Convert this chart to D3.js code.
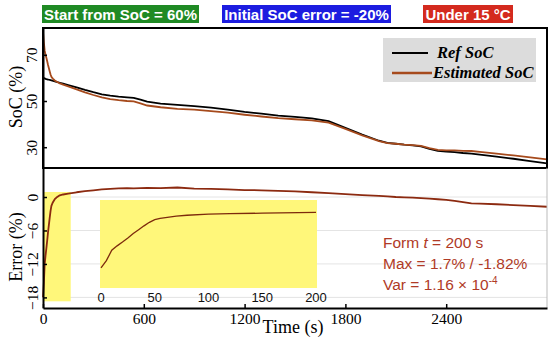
<!DOCTYPE html>
<html>
<head>
<meta charset="utf-8">
<script src="https://cdn.jsdelivr.net/npm/d3@7/dist/d3.min.js"></script>
<style>
  body { margin: 0; background: #fff; }
  svg { display: block; }
</style>
</head>
<body>
<svg id="chart"></svg>
<script>
// ---- data ----
var timeS = [0,5,10,15,20,25,30,35,40,45,50,55,60,70,80,100,120,150,200,250,300,350,400,450,500,540,580,620,700,800,900,1000,1100,1200,1300,1400,1500,1600,1700,1800,1900,2000,2050,2100,2150,2200,2250,2300,2350,2400,2450,2500,2550,2600,2700,2800,2900,3000];

var refSoc = [60.0,59.9,59.8,59.6,59.5,59.4,59.3,59.2,59.1,59.0,58.9,58.8,58.7,58.5,58.3,57.9,57.5,56.9,55.9,54.8,53.8,52.9,52.3,51.9,51.6,51.4,50.6,49.7,48.9,48.3,47.8,47.1,46.3,45.3,44.5,43.7,43.1,42.5,41.3,38.4,35.5,32.8,31.9,31.5,31.1,30.8,30.4,29.3,28.4,28.1,27.9,27.5,27.2,26.8,25.9,25.0,24.0,23.0];

var estSoc = [80.0,75.4,71.8,70.1,68.7,67.2,65.6,64.2,62.8,61.5,60.5,60.0,59.6,58.9,58.4,57.6,57.05,56.3,55.05,53.75,52.6,51.55,50.85,50.35,50.0,49.85,49.0,48.05,47.3,46.6,46.3,45.65,44.95,44.05,43.3,42.6,42.1,41.65,40.6,37.9,35.15,32.6,31.8,31.5,31.15,30.9,30.6,29.6,28.8,28.6,28.6,28.4,28.35,28.0,27.2,26.45,25.6,24.75];

var errPct = [-18,-15.5,-12,-10.5,-9.2,-7.8,-6.3,-5.0,-3.7,-2.5,-1.6,-1.2,-0.9,-0.4,-0.1,0.3,0.45,0.6,0.85,1.05,1.2,1.35,1.45,1.55,1.6,1.55,1.6,1.65,1.6,1.7,1.5,1.45,1.35,1.25,1.2,1.1,1.0,0.85,0.7,0.5,0.35,0.2,0.1,0.0,-0.05,-0.1,-0.2,-0.3,-0.4,-0.5,-0.7,-0.9,-1.15,-1.2,-1.3,-1.45,-1.6,-1.75];

var xTicks = [0, 600, 1200, 1800, 2400];
var socTicks = [30, 50, 70];
var errTicks = [-18, -12, -6, 0];
var insetTicks = [0, 50, 100, 150, 200];

var tags = [
  {text: "Start from SoC = 60%", fill: "#1f8a24", x0: 42, x1: 199},
  {text: "Initial SoC error = -20%", fill: "#1c1ce0", x0: 222, x1: 391},
  {text: "Under 15 \u00B0C", fill: "#d42a1e", x0: 423, x1: 513}
];
var noteLines = ["Max = 1.7% / -1.82%"];

var data = timeS.map(function(t, i) {
  return {t: t, ref: refSoc[i], est: estSoc[i], err: errPct[i]};
});

// ---- layout ----
var W = 550, H = 341;
var left = 43, right = 547;
var topY0 = 28, topY1 = 168;
var botY0 = 168, botY1 = 308;

var svg = d3.select("#chart").attr("width", W).attr("height", H);

var x = d3.scaleLinear().domain([0, 3000]).range([left, right]);
var ySoc = d3.scaleLinear().domain([21, 81.6]).range([topY1, topY0]);
var yErr = d3.scaleLinear().domain([-19.9, 5.2]).range([botY1, botY0]);

var serif = "'Liberation Serif', 'Times New Roman', serif";
var sans = "'Liberation Sans', Arial, sans-serif";

// ---- header tags ----
tags.forEach(function(tg) {
  svg.append("rect").attr("x", tg.x0).attr("y", 5)
    .attr("width", tg.x1 - tg.x0).attr("height", 18)
    .attr("fill", tg.fill);
  svg.append("text").attr("x", (tg.x0 + tg.x1) / 2).attr("y", 19.5)
    .attr("text-anchor", "middle")
    .attr("font-family", sans).attr("font-weight", "bold").attr("font-size", 15)
    .attr("fill", "#fff").text(tg.text);
});

// ---- bottom panel: gridlines + highlights ----
svg.append("g").selectAll("line").data(errTicks).enter().append("line")
  .attr("x1", left).attr("x2", right)
  .attr("y1", function(d) { return yErr(d); }).attr("y2", function(d) { return yErr(d); })
  .attr("stroke", "#e4e4e4").attr("stroke-width", 1);

svg.append("rect")
  .attr("x", x(0)).attr("y", yErr(0.9))
  .attr("width", x(165) - x(0)).attr("height", yErr(-18.7) - yErr(0.9))
  .attr("fill", "#fff77a");

// inset
var xIn = d3.scaleLinear().domain([0, 200]).range([101, 316]);
var yIn = d3.scaleLinear().domain([-24.8, 5.07]).range([288, 200]);

svg.append("rect").attr("x", 100).attr("y", 200)
  .attr("width", 217).attr("height", 88).attr("fill", "#fff77a");

var early = data.filter(function(d) { return d.t <= 200; });
svg.append("path").datum(early)
  .attr("fill", "none").attr("stroke", "#7d2a0c").attr("stroke-width", 1.3)
  .attr("d", d3.line().x(function(d) { return xIn(d.t); }).y(function(d) { return yIn(d.err); }));

svg.append("g").selectAll("text").data(insetTicks).enter().append("text")
  .attr("x", function(d) { return xIn(d); }).attr("y", 302)
  .attr("text-anchor", "middle")
  .attr("font-family", sans).attr("font-size", 13).attr("fill", "#111")
  .text(function(d) { return d; });

// error line
svg.append("path").datum(data)
  .attr("fill", "none").attr("stroke", "#8c2a10").attr("stroke-width", 1.8)
  .attr("stroke-linejoin", "round")
  .attr("d", d3.line().x(function(d) { return x(d.t); }).y(function(d) { return yErr(d.err); }));

// annotation
var note = svg.append("g").attr("font-family", sans).attr("font-size", 15.5).attr("fill", "#b03a26");
var n1 = note.append("text").attr("x", 383).attr("y", 248);
n1.append("tspan").text("Form ");
n1.append("tspan").attr("font-style", "italic").text("t");
n1.append("tspan").text(" = 200 s");
note.append("text").attr("x", 383).attr("y", 269).text(noteLines[0]);
var n3 = note.append("text").attr("x", 383).attr("y", 290);
n3.append("tspan").text("Var = 1.16 \u00D7 10");
n3.append("tspan").attr("font-size", 10).attr("dy", -6).text("-4");

// ---- top panel lines ----
svg.append("clipPath").attr("id", "topclip")
  .append("rect").attr("x", left).attr("y", topY0).attr("width", right - left).attr("height", topY1 - topY0);

svg.append("path").datum(data)
  .attr("clip-path", "url(#topclip)")
  .attr("fill", "none").attr("stroke", "#000").attr("stroke-width", 1.8)
  .attr("d", d3.line().x(function(d) { return x(d.t); }).y(function(d) { return ySoc(d.ref); }));

svg.append("path").datum(data)
  .attr("clip-path", "url(#topclip)")
  .attr("fill", "none").attr("stroke", "#a64a1c").attr("stroke-width", 1.8)
  .attr("d", d3.line().x(function(d) { return x(d.t); }).y(function(d) { return ySoc(d.est); }));

// legend
var lg = svg.append("g");
lg.append("rect").attr("x", 383).attr("y", 38).attr("width", 153).attr("height", 44).attr("fill", "#dcdcdc");
lg.append("line").attr("x1", 392).attr("x2", 428).attr("y1", 53).attr("y2", 53).attr("stroke", "#000").attr("stroke-width", 2);
lg.append("line").attr("x1", 392).attr("x2", 432).attr("y1", 73).attr("y2", 73).attr("stroke", "#a64a1c").attr("stroke-width", 2.5);
lg.append("text").attr("x", 437).attr("y", 58).attr("font-family", serif).attr("font-style", "italic")
  .attr("font-weight", "bold").attr("font-size", 16.5).attr("fill", "#000").text("Ref SoC");
lg.append("text").attr("x", 433).attr("y", 78).attr("font-family", serif).attr("font-style", "italic")
  .attr("font-weight", "bold").attr("font-size", 16.5).attr("fill", "#000").text("Estimated SoC");

// ---- frames / axes ----
svg.append("rect").attr("x", left).attr("y", topY0).attr("width", right - left).attr("height", topY1 - topY0)
  .attr("fill", "none").attr("stroke", "#000").attr("stroke-width", 2);
svg.append("line").attr("x1", right).attr("x2", right).attr("y1", botY0).attr("y2", botY1)
  .attr("stroke", "#bbb").attr("stroke-width", 1);

var yAxisTop = svg.append("g").attr("transform", "translate(" + left + ",0)")
  .call(d3.axisLeft(ySoc).tickValues(socTicks).tickSizeInner(-4).tickSizeOuter(0));
var yAxisBot = svg.append("g").attr("transform", "translate(" + left + ",0)")
  .call(d3.axisLeft(yErr).tickValues(errTicks).tickSizeInner(-4).tickSizeOuter(0));
var xAxis = svg.append("g").attr("transform", "translate(0," + botY1 + ")")
  .call(d3.axisBottom(x).tickValues(xTicks).tickFormat(d3.format("d"))
    .tickSizeInner(-4).tickSizeOuter(0).tickPadding(5));

[yAxisTop, yAxisBot, xAxis].forEach(function(ax) {
  ax.attr("font-family", null).attr("font-size", null);
  ax.select(".domain").attr("stroke-width", 2);
  ax.selectAll(".tick line").attr("stroke-width", 1.5);
  ax.selectAll("text").style("font-family", serif).style("font-size", "15.5px").attr("fill", "#000");
});

// rotated y tick labels
[yAxisTop, yAxisBot].forEach(function(ax, i) {
  ax.selectAll(".tick text")
    .attr("transform", "rotate(-90)")
    .attr("x", 0).attr("y", i === 0 ? -6 : -5).attr("dy", 0)
    .attr("text-anchor", "middle");
});

// axis titles
svg.append("text").attr("transform", "translate(22,97) rotate(-90)")
  .attr("text-anchor", "middle").attr("font-family", serif).attr("font-size", 18).text("SoC (%)");
svg.append("text").attr("transform", "translate(22,247) rotate(-90)")
  .attr("text-anchor", "middle").attr("font-family", serif).attr("font-size", 18).text("Error (%)");
svg.append("text").attr("x", 293).attr("y", 333)
  .attr("text-anchor", "middle").attr("font-family", serif).attr("font-size", 18).text("Time (s)");
</script>
</body>
</html>
